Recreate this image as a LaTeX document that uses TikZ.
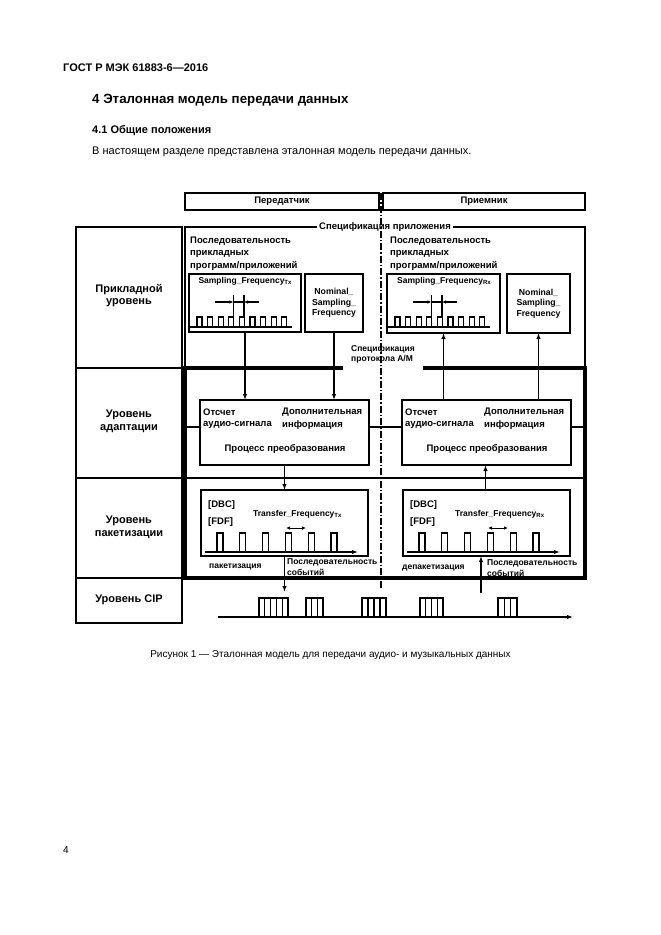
\documentclass[tikz,border=0pt]{standalone}
\usepackage{fontspec}
\setmainfont{Liberation Sans}
\usetikzlibrary{arrows.meta}
\newcommand{\fs}[1]{\fontsize{#1}{#1}\selectfont}
\newcommand{\subtx}[1]{{\fs{6}\raisebox{-1.8pt}{#1}}}
\begin{document}
\begin{tikzpicture}[x=1pt,y=-1pt,
  ln/.style={line width=1.3pt},
  bx/.style={draw,line width=2pt,inner sep=0pt,outer sep=0pt,anchor=north west},
  thk/.style={line width=3.6pt},
  tip/.style={-{Latex[length=6pt,width=4.5pt]}},
  dimtip/.style={-{Latex[length=4pt,width=3.5pt]}},
  lbl/.style={font=\fs{11}\bfseries,align=center,inner sep=0pt},
  dt/.style={font=\fs{9.5}\bfseries,inner sep=0pt},
  st/.style={font=\fs{8.5}\bfseries,inner sep=0pt},
  nt/.style={font=\fs{8.7}\bfseries,inner sep=0pt,align=center}]
\useasboundingbox (0,0) rectangle (661,935);
\fill[white] (0,0) rectangle (661,935);

% page text
\node[anchor=west,inner sep=0pt,font=\fs{11}\bfseries] (hdr) at (63,68) {ГОСТ Р МЭК 61883-6—2016};
\node[anchor=west,inner sep=0pt,font=\fs{13.3}\bfseries] (sec) at (92,100) {4 Эталонная модель передачи данных};
\node[anchor=west,inner sep=0pt,font=\fs{11}\bfseries] (sub) at (92,131) {4.1 Общие положения};
\node[anchor=west,inner sep=0pt,font=\fs{11}] (par) at (92,152) {В настоящем разделе представлена эталонная модель передачи данных.};
\node[inner sep=0pt,font=\fs{10}] (cap) at (330.5,655) {Рисунок 1 — Эталонная модель для передачи аудио- и музыкальных данных};
\node[anchor=west,inner sep=0pt,font=\fs{10}] (pg) at (63,850) {4};

% header boxes
\node[bx,minimum width=194pt,minimum height=17pt] (hTx) at (185,193) {};
\node[dt] at (hTx.center) {Передатчик};
\node[bx,minimum width=202pt,minimum height=17pt] (hRx) at (383,193) {};
\node[dt] at (hRx.center) {Приемник};

% left column
\node[bx,minimum width=106pt,minimum height=396pt] (lc) at (76,227) {};
\draw[line width=2pt] (76,368) -- (182,368);
\draw[line width=2pt] (76,478) -- (182,478);
\draw[line width=2pt] (76,578) -- (182,578);
\node[lbl] (l1) at (129,295.5) {Прикладной\\[1.5pt]уровень};
\node[lbl] (l2) at (129,421.5) {Уровень\\[1.5pt]адаптации};
\node[lbl] (l3) at (129,527.5) {Уровень\\[1.5pt]пакетизации};
\node[lbl] (l4) at (129,600) {Уровень CIP};

% application box
\coordinate (aTL) at (185,227);
\coordinate (aBR) at (585,368);
\draw[line width=1.5pt] (aTL |- aBR) -- (aTL) -- (aBR |- aTL) -- (aBR);
\node[dt,fill=white,inner xsep=2pt,inner ysep=1pt] (appL) at (385,227) {Спецификация приложения};

% protocol box
\coordinate (pTL) at (185,368);
\coordinate (pBR) at (585,578);
\draw[thk] (343,368) -- (pTL) -- (pTL |- pBR) -- (pBR) -- (pBR |- pTL) -- (423,368);
\node[st,anchor=north west,align=left] (protL) at (351,345) {Спецификация\\[2pt]протокола A/M};
\draw[ln] (185,478) -- (585,478);

% application content
\foreach \xx in {190,390}{
  \node[dt,anchor=west] at (\xx,241.5) {Последовательность};
  \node[dt,anchor=west] at (\xx,254) {прикладных};
  \node[dt,anchor=west] at (\xx,266) {программ/приложений};
}
\node[bx,minimum width=112pt,minimum height=58pt] (sfTx) at (189,274) {};
\node[st] at (245,281) {Sampling\_Frequency\subtx{Tx}};
\node[bx,minimum width=113pt,minimum height=59pt] (sfRx) at (387,274) {};
\node[st] at (444,281) {Sampling\_Frequency\subtx{Rx}};
\foreach \dx in {0,198}{
  \begin{scope}[xshift=\dx pt]
  \draw[ln] (190,327) -- (292,327);
  \foreach \i in {0,...,8}
    \draw[ln] ({197+10.6*\i},327) -- ({197+10.6*\i},317) -- ({202+10.6*\i},317) -- ({202+10.6*\i},327);
  \draw[ln] (233.4,295) -- (233.4,317);
  \draw[ln] (244,295) -- (244,317);
  \draw[ln] (233.4,302) -- (244,302);
  \draw[ln,dimtip] (215,302) -- (233.4,302);
  \draw[ln,dimtip] (259,302) -- (244,302);
  \end{scope}
}
\node[bx,minimum width=58pt,minimum height=58pt] (nmTx) at (305,274) {};
\node[nt] at (nmTx.center) {Nominal\_\\[2pt]Sampling\_\\[2pt]Frequency};
\node[bx,minimum width=63pt,minimum height=59pt] (nmRx) at (507,274) {};
\node[nt] at (nmRx.center) {Nominal\_\\[2pt]Sampling\_\\[2pt]Frequency};

% adaptation boxes
\node[bx,minimum width=169pt,minimum height=65pt] (adTx) at (200,400) {};
\node[bx,minimum width=169pt,minimum height=65pt] (adRx) at (402,400) {};
\foreach \dx in {0,202}{
  \node[dt,anchor=west] at (203+\dx,412) {Отсчет};
  \node[dt,anchor=west] at (203+\dx,425) {аудио-сигнала};
  \node[dt,anchor=west] at (282+\dx,412) {Дополнительная};
  \node[dt,anchor=west] at (282+\dx,425) {информация};
  \node[dt] at (285+\dx,449) {Процесс преобразования};
}

% packet boxes
\node[bx,minimum width=167pt,minimum height=66pt] (pkTx) at (201,490) {};
\node[bx,minimum width=167pt,minimum height=66pt] (pkRx) at (403,490) {};
\foreach \dx/\sb in {0/Tx,202/Rx}{
  \begin{scope}[xshift=\dx pt]
  \node[dt,anchor=west] at (208,505) {[DBC]};
  \node[dt,anchor=west] at (208,522) {[FDF]};
  \node[st,anchor=west] at (253,514) {Transfer\_Frequency\subtx{\sb}};
  \draw[line width=1pt,{Latex[length=4pt,width=3.5pt]}-{Latex[length=4pt,width=3.5pt]}] (286,528) -- (306,528);
  \draw[ln,tip] (205,552) -- (358,552);
  \foreach \i in {0,...,5}
    \draw[ln] ({217+22.8*\i},552) -- ({217+22.8*\i},533) -- ({223+22.8*\i},533) -- ({223+22.8*\i},552);
  \end{scope}
}
\node[st,anchor=west] at (209,567) {пакетизация};
\node[st,anchor=west] at (287,562) {Последовательность};
\node[st,anchor=west] at (287,572) {событий};
\node[st,anchor=west] at (402,568) {депакетизация};
\node[st,anchor=west] at (487,563) {Последовательность};
\node[st,anchor=west] at (487,573) {событий};

% connectors
\draw[ln,tip] (sfTx.south) -- (sfTx.south |- adTx.north);
\draw[ln,tip] (nmTx.south) -- (nmTx.south |- adTx.north);
\draw[ln,tip] (adRx.north -| sfRx.south) -- (sfRx.south);
\draw[ln,tip] (adRx.north -| nmRx.south) -- (nmRx.south);
\draw[ln,tip] (adTx.south) -- (adTx.south |- pkTx.north);
\draw[ln,tip] ([xshift=-1pt]pkRx.north) -- ([xshift=-1pt]pkRx.north |- adRx.south);
\draw[ln] ([yshift=5.5pt]adTx.west) -- ([yshift=5.5pt]adTx.west -| pTL);
\draw[ln] ([yshift=5.5pt]adTx.east) -- ([yshift=5.5pt]adRx.west);
\draw[ln] ([yshift=5.5pt]adRx.east) -- ([yshift=5.5pt]adRx.east -| pBR);
\coordinate (evTx) at (284.5,592);
\coordinate (evRx) at (481,593);
\draw[ln,tip] (pkTx.south) -- (evTx);
\draw[ln,tip] (evRx) -- (evRx |- pkRx.south);

% CIP row
\coordinate (cS) at (218,617);
\coordinate (cE) at (573,617);
\draw[ln,tip] (cS) -- (cE);
\foreach \xa/\xb/\n in {259/288/5,306/323/3,362/386/4,420/443/4,498/517/3}{
  \draw[ln] (\xa,617) -- (\xa,598) -- (\xb,598) -- (\xb,617);
  \foreach \k in {1,...,\n}
    \draw[ln] ({\xa+(\xb-\xa)*\k/\n},598) -- ({\xa+(\xb-\xa)*\k/\n},617);
}

% dash-dot separator
\draw[line width=1.4pt,dash pattern=on 7pt off 2pt on 1.5pt off 2pt] (381,193) -- (381,588);
\end{tikzpicture}
\end{document}
